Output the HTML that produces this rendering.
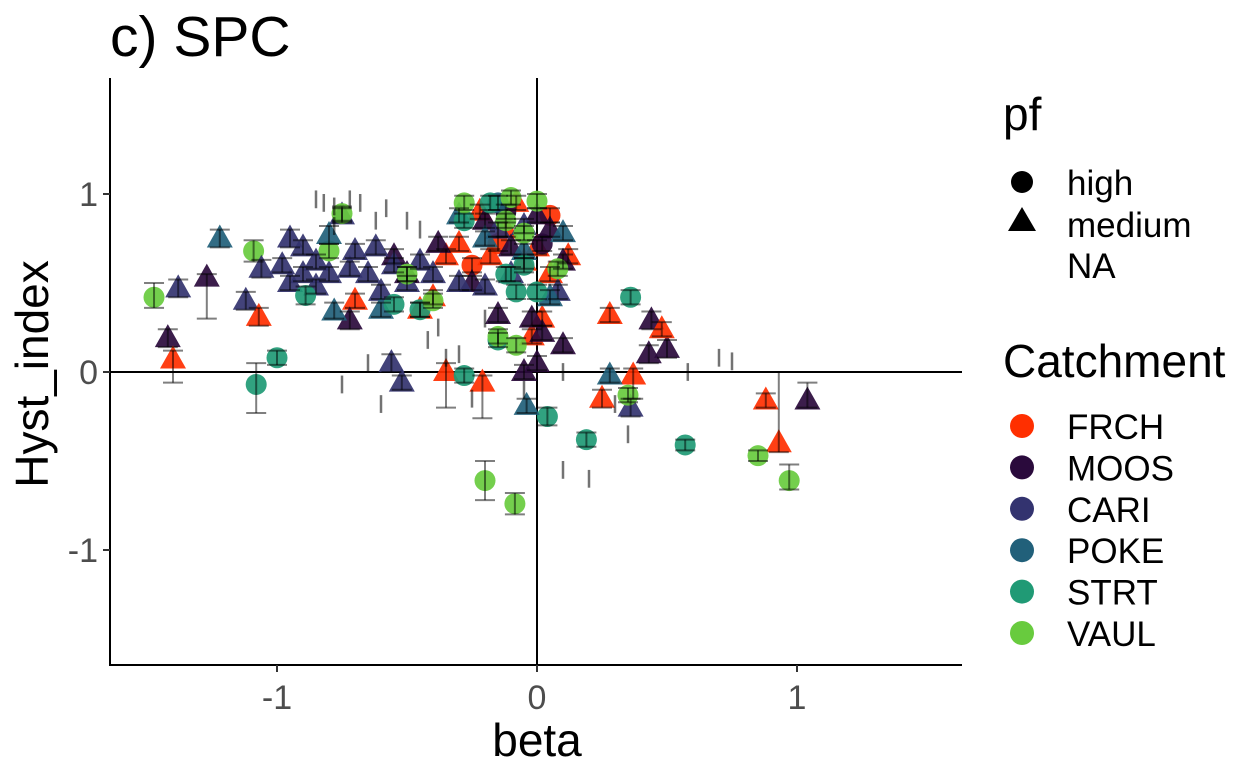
<!DOCTYPE html>
<html><head><meta charset="utf-8"><style>
body{margin:0;background:#fff;font-family:"Liberation Sans",sans-serif}
svg{display:block}
</style></head><body>
<svg id="chart" width="1259" height="778">
<text x="110" y="56" font-size="57" fill="#000">c) SPC</text>
<g id="plot"></g>
<text x="537" y="756" font-size="46" text-anchor="middle" fill="#000">beta</text>
<text transform="translate(48,374) rotate(-90)" font-size="46" text-anchor="middle" fill="#000">Hyst_index</text>
<g>
<text x="1003" y="130" font-size="46">pf</text>
<circle cx="1022" cy="182" r="11" fill="#000"/>
<text x="1067" y="195" font-size="35">high</text>
<polygon points="1022,207 1036,231 1008,231" fill="#000"/>
<text x="1067" y="237" font-size="35">medium</text>
<text x="1067" y="278" font-size="35">NA</text>
</g>
<g id="leg2">
<text x="1003" y="377" font-size="46">Catchment</text>
</g>
</svg>
<script>
const catNames=["FRCH","MOOS","CARI","POKE","STRT","VAUL"];
const catColors=["#FF2F00","#2A0A3C","#33336F","#21607A","#209A75","#68CB3E"];
const xs=[-1.473,-1.38,-1.42,-1.40,-1.27,-1.22,-1.09,-1.12,-1.07,-1.08,-1.0,-1.06,-0.95,-0.89,-0.75,-0.80,-0.72,-0.78,-0.56,-0.52,-0.35,-0.28,-0.21,-0.2,-0.085,0.04,-0.04,0.19,0.25,0.28,0.36,0.44,0.5,0.43,0.48,0.37,0.28,0.36,0.35,0.57,0.88,0.93,1.04,0.85,0.97];
const ys=[0.42,0.47,0.19,0.07,0.53,0.75,0.68,0.40,0.31,-0.07,0.08,0.58,0.75,0.43,0.89,0.77,0.29,0.34,0.05,-0.06,0.0,-0.02,-0.06,-0.61,-0.74,-0.25,-0.19,-0.38,-0.15,0.32,0.42,0.29,0.13,0.1,0.24,-0.02,-0.02,-0.2,-0.13,-0.41,-0.16,-0.40,-0.16,-0.47,-0.61];
const cats=[5,2,1,0,1,3,5,2,0,4,4,2,2,4,5,3,1,3,2,2,0,4,0,5,5,4,3,4,0,0,4,1,1,1,0,0,3,2,5,4,0,0,1,5,5];
const shapes="ctttttcttccttccttttttctccctcttctttttttcctttcc".split("");
const errLo=[0.36,0.42,0.14,-0.06,0.3,0.7,0.62,0.35,0.26,-0.23,0.04,0.53,0.7,0.38,0.85,0.72,0.24,0.3,0.0,-0.1,-0.2,-0.06,-0.26,-0.72,-0.8,-0.3,-0.23,-0.42,-0.2,0.28,0.38,0.24,0.08,0.05,0.2,-0.15,-0.06,-0.25,-0.17,-0.44,-0.2,-0.45,-0.2,-0.5,-0.66];
const errHi=[0.5,0.52,0.24,0.12,0.55,0.8,0.74,0.45,0.36,0.05,0.12,0.63,0.8,0.48,0.93,0.82,0.34,0.39,0.1,-0.02,0.05,0.02,-0.02,-0.5,-0.68,-0.2,-0.15,-0.34,-0.1,0.36,0.46,0.34,0.18,0.15,0.28,0.02,0.02,-0.15,-0.09,-0.38,-0.12,0.0,-0.06,-0.44,-0.52];
const dCats=[0,0,0,0,0,0,0,0,0,0,0,0,0,0,0,0,0,0,1,1,1,1,1,1,1,1,1,1,1,1,1,1,1,1,1,2,2,2,2,2,2,2,2,2,2,2,2,2,2,2,2,2,2,2,2,2,2,2,3,3,3,3,3,3,3,4,4,4,4,4,4,4,4,4,5,5,5,5,5,5,5,5,5,5,5];
const dShapes=("t".repeat(15)+"ccc"+"t".repeat(15)+"cc"+"t".repeat(23)+"t".repeat(6)+"c"+"c".repeat(9)+"c".repeat(11)).split("");
const dXs=[-0.35,-0.3,-0.22,-0.12,-0.05,0.12,0.05,-0.4,-0.45,-0.7,-0.18,-0.08,0.0,-0.02,0.02,-0.15,0.05,-0.25,-0.38,-0.2,-0.1,0.0,0.05,-0.15,0.1,0.1,-0.02,0.0,-0.05,0.02,-0.25,-0.5,-0.55,-0.12,0.02,-0.9,-0.95,-0.85,-0.8,-0.72,-0.65,-0.6,-0.55,-0.5,-0.45,-0.4,-0.3,-0.2,-0.1,-0.7,-0.62,-0.9,-0.98,-0.85,-0.15,0.08,-0.05,-0.75,-0.3,0.1,-0.05,-0.6,-0.2,0.05,-0.15,-0.28,-0.12,-0.05,-0.08,0.0,-0.45,-0.15,-0.18,-0.55,-0.28,-0.1,-0.05,0.0,-0.4,-0.15,-0.08,-0.8,0.08,-0.5,-0.12];
const dYs=[0.65,0.72,0.9,0.8,0.62,0.65,0.55,0.42,0.35,0.4,0.65,0.95,0.7,0.2,0.3,0.72,0.88,0.6,0.72,0.85,0.7,0.88,0.8,0.32,0.62,0.15,0.3,0.05,0.0,0.22,0.5,0.55,0.65,0.9,0.72,0.55,0.5,0.62,0.55,0.58,0.55,0.45,0.6,0.5,0.62,0.55,0.5,0.48,0.55,0.68,0.7,0.7,0.6,0.48,0.8,0.45,0.82,0.88,0.88,0.78,0.68,0.35,0.75,0.42,0.95,0.85,0.55,0.6,0.45,0.45,0.35,0.18,0.95,0.38,0.95,0.98,0.78,0.96,0.4,0.2,0.15,0.68,0.58,0.55,0.85];
const naXs=[-0.82,-0.78,-0.72,-0.68,-0.85,-0.58,-0.5,-0.62,-0.45,-0.78,-0.38,-0.42,-0.35,-0.65,-0.75,-0.6,-0.25,0.58,0.7,0.75,0.1,0.2,0.1,0.3,-0.05,0.35,-0.3,-0.2];
const naYs=[0.95,0.93,0.97,0.95,0.97,0.92,0.85,0.85,0.8,0.82,0.25,0.18,0.08,0.05,-0.07,-0.18,-0.15,0.0,0.08,0.06,-0.55,-0.6,0.0,-0.18,-0.1,-0.35,0.1,0.3];

const NS="http://www.w3.org/2000/svg";
const L=110,R=962,T=78,B=665;
const X=v=>537+v*260, Y=v=>372-v*178;
const plot=document.getElementById('plot');
function mk(tag,a,p){const e=document.createElementNS(NS,tag);for(const k in a)e.setAttribute(k,a[k]);(p||plot).appendChild(e);return e;}
let e;
e=mk('line',{x1:L,y1:Y(0),x2:R,y2:Y(0),stroke:'#000','stroke-width':2});


e=mk('line',{x1:X(0),y1:T,x2:X(0),y2:B,stroke:'#000','stroke-width':2});


e=mk('line',{x1:L,y1:T,x2:L,y2:B+1,stroke:'#000','stroke-width':2});


e=mk('line',{x1:L-1,y1:B,x2:R,y2:B,stroke:'#000','stroke-width':2});


const xt=[-1,0,1],xtl=["-1","0","1"],yt=[-1,0,1],ytl=["-1","0","1"];
xt.forEach((v,i)=>{
 e=mk('line',{x1:X(v),y1:B,x2:X(v),y2:B+7,stroke:'#333','stroke-width':2});
 
 
 e=mk('text',{x:X(v),y:B+44,'font-size':34,'text-anchor':'middle',fill:'#4d4d4d'});e.textContent=xtl[i];
 
 
});
yt.forEach((v,i)=>{
 e=mk('line',{x1:L-7,y1:Y(v),x2:L,y2:Y(v),stroke:'#333','stroke-width':2});
 
 
 e=mk('text',{x:L-12,y:Y(v)+12,'font-size':34,'text-anchor':'end',fill:'#4d4d4d'});e.textContent=ytl[i];
 
 
});
function marker(c,s,x,y){
 const cx=X(x),cy=Y(y);let m;
 if(s==='c') m=mk('circle',{cx:cx,cy:cy,r:10.5,fill:catColors[c],'fill-opacity':0.92});
 else m=mk('polygon',{points:`${cx},${cy-14} ${cx+13},${cy+9} ${cx-13},${cy+9}`,fill:catColors[c],'fill-opacity':0.92});
 
 
}
function err(x,lo,hi){
 const cx=X(x);
 const g=mk('g',{stroke:'rgba(0,0,0,0.5)','stroke-width':2});
 
 
 mk('line',{x1:cx,y1:Y(lo),x2:cx,y2:Y(hi)},g);
 mk('line',{x1:cx-10,y1:Y(lo),x2:cx+10,y2:Y(lo)},g);
 mk('line',{x1:cx-10,y1:Y(hi),x2:cx+10,y2:Y(hi)},g);
}
dXs.forEach((x,i)=>marker(dCats[i],dShapes[i],x,dYs[i]));
xs.forEach((x,i)=>marker(cats[i],shapes[i],x,ys[i]));
dXs.forEach((x,i)=>err(x,dYs[i]-0.04,dYs[i]+0.04));
xs.forEach((x,i)=>err(x,errLo[i],errHi[i]));
naXs.forEach((x,i)=>{const cx=X(x);
 const g=mk('g',{stroke:'rgba(0,0,0,0.55)','stroke-width':2.5});
 
 
 mk('line',{x1:cx,y1:Y(naYs[i]+0.05),x2:cx,y2:Y(naYs[i]-0.05)},g);
});
const leg=document.getElementById('leg2');
catNames.forEach((n,i)=>{const y=426+i*41.4;
 e=mk('circle',{cx:1022,cy:y,r:12,fill:catColors[i]},leg);
 
 
 e=mk('text',{x:1067,y:y+13,'font-size':35},leg);e.textContent=n;
 
 
});
</script>
</body></html>
